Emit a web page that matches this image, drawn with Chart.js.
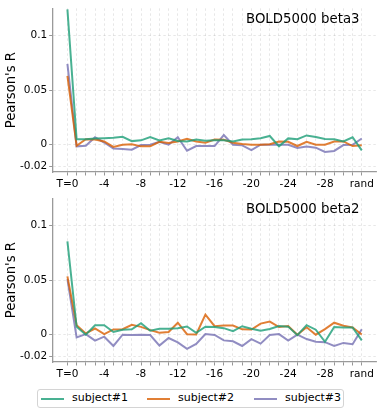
<!DOCTYPE html>
<html>
<head>
<meta charset="utf-8">
<script src="https://cdn.jsdelivr.net/npm/chart.js"></script>
<style>
  body { margin: 0; background: #fff; font-family: "DejaVu Sans", sans-serif; }
  .panel { position: absolute; left: 0; width: 381px; height: 190px; }
  #legend { position: absolute; left: 37px; top: 389px; width: 305px; height: 17px;
    border: 1px solid #d4d4d4; border-radius: 3px; background: #fff; }
  .lg-line { position: absolute; top: 8px; width: 23px; height: 2px; }
  .lg-txt { position: absolute; top: 1px; font-size: 11px; line-height: 14px; color: #000; white-space: nowrap; }
</style>
</head>
<body>
<div class="panel" style="top:0px"><canvas id="chartTop"></canvas></div>
<div class="panel" style="top:190px"><canvas id="chartBottom"></canvas></div>
<div id="legend"></div>
<script>
// categories: T=0 ... T=-31, then the random baseline
const categories = ["T=0", "-1", "-2", "-3", "-4", "-5", "-6", "-7", "-8", "-9", "-10",
  "-11", "-12", "-13", "-14", "-15", "-16", "-17", "-18", "-19", "-20",
  "-21", "-22", "-23", "-24", "-25", "-26", "-27", "-28", "-29", "-30", "-31", "rand"];
const shownLabels = ["T=0", "-4", "-8", "-12", "-16", "-20", "-24", "-28", "rand"];
const yTicks = [-0.02, 0, 0.05, 0.1];
const seriesNames = ["subject#1", "subject#2", "subject#3"];
const seriesColors = ["rgba(27,158,119,0.8)", "rgba(217,95,2,0.8)", "rgba(117,112,179,0.8)"];

// BOLD5000 beta3
const beta3Sub1 = [0.124, 0.005, 0.005, 0.0057, 0.006, 0.0063, 0.0072, 0.0033, 0.004, 0.007, 0.004,
  0.006, 0.0035, 0.003, 0.0048, 0.0036, 0.004, 0.004, 0.003, 0.0048, 0.005,
  0.006, 0.008, -0.0015, 0.0058, 0.005, 0.0085, 0.007, 0.0052, 0.005, 0.003, 0.0068, -0.0052];
const beta3Sub2 = [0.063, -0.001, 0.005, 0.0048, 0.003, -0.002, 0, 0.0005, -0.0015, -0.0015, 0.0027,
  0.0015, 0.003, 0.0055, 0.003, 0.0018, 0.0048, 0.0045, 0.0018, 0.0006, 0,
  0, 0.0005, 0.003, 0.0027, -0.0012, 0.0027, 0, 0, 0.003, 0.003, -0.0012, -0.0005];
const beta3Sub3 = [0.074, -0.0015, -0.001, 0.0068, 0.002, -0.0035, -0.004, -0.0045, -0.0003, 0, 0.0027,
  0, 0.0068, -0.0055, -0.0012, -0.0012, -0.0012, 0.0088, 0, -0.0006, -0.005,
  0, 0, 0, 0, -0.003, -0.0017, -0.0027, -0.0066, -0.0057, -0.0003, 0, 0.0057];

// BOLD5000 beta2
const beta2Sub1 = [0.0855, 0.0072, 0, 0.0087, 0.0087, 0.0025, 0.0045, 0.005, 0.0105, 0.0036, 0.0055,
  0.0055, 0.006, 0.0075, 0.0018, 0.0073, 0.007, 0.006, 0.0032, 0.0078, 0.0055,
  0.0036, 0.0052, 0.008, 0.0074, -0.0004, 0.0088, 0.0046, -0.0065, 0.007, 0.0066, 0.0066, -0.0052];
const beta2Sub2 = [0.0535, 0.0087, 0.0012, 0.0057, 0.0006, 0.0048, 0.005, 0.009, 0.0072, 0.0042, 0.0018,
  0.0025, 0.011, 0.0005, 0.0003, 0.0185, 0.0078, 0.0084, 0.0084, 0.0049, 0.0048,
  0.0102, 0.012, 0.007, 0.008, 0, 0.0068, 0, 0.0052, 0.011, 0.0082, 0.0066, 0.0002];
const beta2Sub3 = [0.051, -0.0024, 0.0006, -0.0054, -0.0018, -0.0103, 0, -0.0003, 0, -0.0003, -0.01,
  -0.003, -0.007, -0.013, -0.0085, 0.0006, -0.0002, -0.0052, -0.006, -0.0103, -0.004,
  -0.0082, -0.0002, 0.0006, -0.0054, 0, -0.004, -0.0065, -0.0068, -0.0102, -0.0075, -0.0087, 0.005];

const FONT = "DejaVu Sans";

// panel name drawn in the upper right corner of the plot area
const cornerTitle = {
  id: "cornerTitle",
  afterDraw(chart, args, opts) {
    const ctx = chart.ctx;
    ctx.save();
    ctx.font = "13.3px '" + FONT + "'";
    ctx.fillStyle = "#000";
    ctx.textAlign = "right";
    ctx.textBaseline = "alphabetic";
    ctx.fillText(opts.text, 359.5, 23.3);
    ctx.restore();
  },
};

function mkChart(canvasId, title, seriesList) {
  const datasets = seriesList.map((vals, si) => ({
    label: seriesNames[si],
    data: vals.map((v, i) => ({ x: i, y: v })),
    borderColor: seriesColors[si],
    backgroundColor: seriesColors[si],
    borderWidth: 2,
    pointRadius: 0,
    tension: 0,
    fill: false,
  }));
  return new Chart(document.getElementById(canvasId), {
    type: "line",
    data: { datasets: datasets },
    plugins: [cornerTitle],
    options: {
      responsive: true,
      maintainAspectRatio: false,
      animation: false,
      layout: { padding: { left: 0, right: 4.5, top: 4.8, bottom: 0 } },
      plugins: {
        legend: { display: false },
        tooltip: { enabled: false },
        cornerTitle: { text: title },
      },
      scales: {
        x: {
          type: "linear",
          min: -1.6,
          max: categories.length - 1 + 1.6,
          afterBuildTicks: (scale) => {
            scale.ticks = categories.map((c, i) => ({ value: i }));
          },
          afterFit: (scale) => {
            scale.height = 18;
          },
          ticks: {
            autoSkip: false,
            maxRotation: 0,
            minRotation: 0,
            padding: 2,
            color: "#000",
            font: { family: FONT, size: 10.5 },
            callback: (v) => {
              const c = categories[Math.round(v)];
              return shownLabels.includes(c) ? c : "";
            },
          },
          grid: {
            color: "rgba(0,0,0,0.12)",
            lineWidth: 0.8,
            tickLength: 3.5,
            tickColor: "#8a8a8a",
            tickWidth: 0.9,
            tickBorderDash: [],
          },
          border: { display: true, color: "#9a9a9a", width: 1.3, dash: [2.5, 2.5] },
        },
        y: {
          min: -0.025,
          max: 0.125,
          afterBuildTicks: (scale) => {
            scale.ticks = yTicks.map((v) => ({ value: v }));
          },
          afterFit: (scale) => {
            scale.width = 52.7;
          },
          title: {
            display: true,
            text: "Pearson's R",
            color: "#000",
            font: { family: FONT, size: 13.2 },
            padding: { top: 4, bottom: 0 },
          },
          ticks: {
            padding: 2,
            color: "#000",
            font: { family: FONT, size: 10.5 },
            callback: (v) => String(v),
          },
          grid: {
            color: "rgba(0,0,0,0.12)",
            lineWidth: 0.8,
            tickLength: 3.5,
            tickColor: "#8a8a8a",
            tickWidth: 0.9,
            tickBorderDash: [],
          },
          border: { display: true, color: "#9a9a9a", width: 1.3, dash: [2.5, 2.5] },
        },
      },
    },
  });
}

mkChart("chartTop", "BOLD5000 beta3", [beta3Sub1, beta3Sub2, beta3Sub3]);
mkChart("chartBottom", "BOLD5000 beta2", [beta2Sub1, beta2Sub2, beta2Sub3]);

// legend under both panels
function mkLegend() {
  const lg = document.getElementById("legend");
  const lineLefts = [3, 109, 216];
  seriesNames.forEach((name, si) => {
    const ln = document.createElement("div");
    ln.className = "lg-line";
    ln.style.left = lineLefts[si] + "px";
    ln.style.background = seriesColors[si];
    lg.appendChild(ln);
    const tx = document.createElement("div");
    tx.className = "lg-txt";
    tx.style.left = lineLefts[si] + 31 + "px";
    tx.textContent = name;
    lg.appendChild(tx);
  });
}
mkLegend();
</script>
</body>
</html>
